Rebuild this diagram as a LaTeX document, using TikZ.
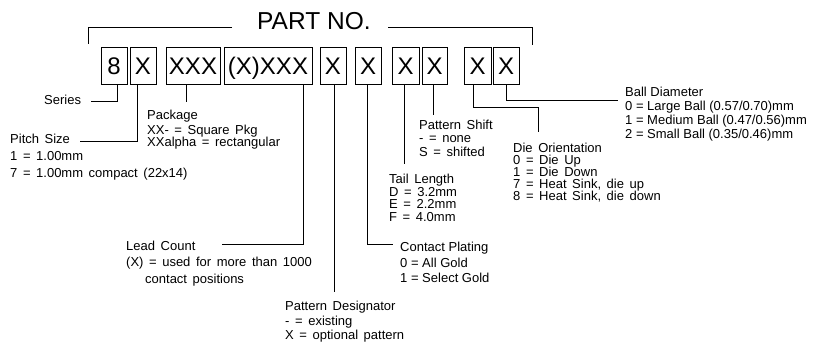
\documentclass[tikz,border=0pt]{standalone}
\usepackage{fontspec}
\setmainfont{Liberation Sans}
\newcommand\widesp{\spaceskip=0.43em\relax}
\begin{document}
\begin{tikzpicture}[x=1pt,y=-1pt,
  box/.style={draw,line width=0.9pt,minimum height=37pt,inner sep=0pt,text height=17.2pt,text depth=0pt,font=\fontsize{24}{24}\selectfont},
  lbl/.style={anchor=base west,inner sep=0pt,font=\fontsize{13}{13}\selectfont\widesp},
  nlbl/.style={anchor=base west,inner sep=0pt,font=\fontsize{13}{13}\selectfont},
  conn/.style={line width=0.9pt}]
\useasboundingbox (0,0) rectangle (814,343);
% title
\node[anchor=base west,inner sep=0pt,font=\fontsize{24.5}{24.5}\selectfont] (title) at (257,29) {PART NO.};
\coordinate (tL1) at (232,27); \coordinate (tL2) at (88,27); \coordinate (tL3) at (88,44);
\coordinate (tR1) at (388,27); \coordinate (tR2) at (532,27); \coordinate (tR3) at (532,45);
\draw[conn] (tL1) -- (tL2) -- (tL3);
\draw[conn] (tR1) -- (tR2) -- (tR3);
% boxes
\node[box,minimum width=26pt] (b1) at (114,65.5) {8};
\node[box,minimum width=26pt] (b2) at (143,65.5) {X};
\node[box,minimum width=54pt] (b3) at (193,65.5) {XXX};
\node[box,minimum width=88pt] (b4) at (268,65.5) {(X)XXX};
\node[box,minimum width=26pt] (b5) at (333,65.5) {X};
\node[box,minimum width=26pt] (b6) at (368,65.5) {X};
\node[box,minimum width=27pt] (b7) at (405.5,65.5) {X};
\node[box,minimum width=25pt] (b8) at (434.5,65.5) {X};
\node[box,minimum width=27pt] (b9) at (477.5,65.5) {X};
\node[box,minimum width=26pt] (b10) at (506,65.5) {X};
% labels
\node[nlbl] (series) at (44,104) {Series};
\node[lbl] (pitch) at (10,143) {Pitch Size};
\node[lbl] (pitch1) at (10,160) {1 = 1.00mm};
\node[lbl] (pitch2) at (10,177) {7 = 1.00mm compact (22x14)};
\node[nlbl] (pkg) at (147,119) {Package};
\node[lbl] (pkg1) at (147,134) {XX- = Square Pkg};
\node[lbl] (pkg2) at (147,146) {XXalpha = rectangular};
\node[lbl] (lead) at (126,250) {Lead Count};
\node[lbl] (lead1) at (126,266) {(X) = used for more than 1000};
\node[lbl] (lead2) at (145,283) {contact positions};
\node[lbl] (pd) at (285,310) {Pattern Designator};
\node[lbl] (pd1) at (285,325) {- = existing};
\node[lbl] (pd2) at (285,339) {X = optional pattern};
\node[nlbl] (cp) at (400,251) {Contact Plating};
\node[nlbl] (cp1) at (400,267) {0 = All Gold};
\node[nlbl] (cp2) at (400,282) {1 = Select Gold};
\node[lbl] (tl) at (389,183) {Tail Length};
\node[lbl] (tl1) at (389,196) {D = 3.2mm};
\node[lbl] (tl2) at (389,208) {E = 2.2mm};
\node[lbl] (tl3) at (389,221) {F = 4.0mm};
\node[lbl] (ps) at (419,129) {Pattern Shift};
\node[lbl] (ps1) at (419,142) {- = none};
\node[lbl] (ps2) at (419,156) {S = shifted};
\node[lbl] (do) at (513,152) {Die Orientation};
\node[lbl] (do1) at (513,164) {0 = Die Up};
\node[lbl] (do2) at (513,176) {1 = Die Down};
\node[lbl] (do3) at (513,188) {7 = Heat Sink, die up};
\node[lbl] (do4) at (513,200) {8 = Heat Sink, die down};
\node[nlbl] (bd) at (625,96) {Ball Diameter};
\node[nlbl] (bd1) at (625,110) {0 = Large Ball (0.57/0.70)mm};
\node[nlbl] (bd2) at (625,124) {1 = Medium Ball (0.47/0.56)mm};
\node[nlbl] (bd3) at (625,138) {2 = Small Ball (0.35/0.46)mm};
% connectors
\coordinate (s1) at (117,101); \coordinate (sE) at (91,101);
\draw[conn] (b1.south -| s1) -- (s1) -- (sE);
\coordinate (p1) at (137,141); \coordinate (pE) at (80,141);
\draw[conn] (b2.south -| p1) -- (p1) -- (pE);
\coordinate (k1) at (186,102);
\draw[conn] (b3.south -| k1) -- (k1);
\coordinate (l1) at (303,244); \coordinate (lE) at (222,244);
\draw[conn] (b4.south -| l1) -- (l1) -- (lE);
\coordinate (d1) at (334,292);
\draw[conn] (b5.south -| d1) -- (d1);
\coordinate (c1) at (367,244); \coordinate (cE) at (393,244);
\draw[conn] (b6.south -| c1) -- (c1) -- (cE);
\coordinate (t1) at (404,164);
\draw[conn] (b7.south -| t1) -- (t1);
\coordinate (q1) at (433,115);
\draw[conn] (b8.south -| q1) -- (q1);
\coordinate (o1) at (473,107); \coordinate (o2) at (538,107); \coordinate (o3) at (538,132);
\draw[conn] (b9.south -| o1) -- (o1) -- (o2) -- (o3);
\coordinate (e1) at (506,100); \coordinate (eE) at (618,100);
\draw[conn] (b10.south -| e1) -- (e1) -- (eE);
\end{tikzpicture}
\end{document}
